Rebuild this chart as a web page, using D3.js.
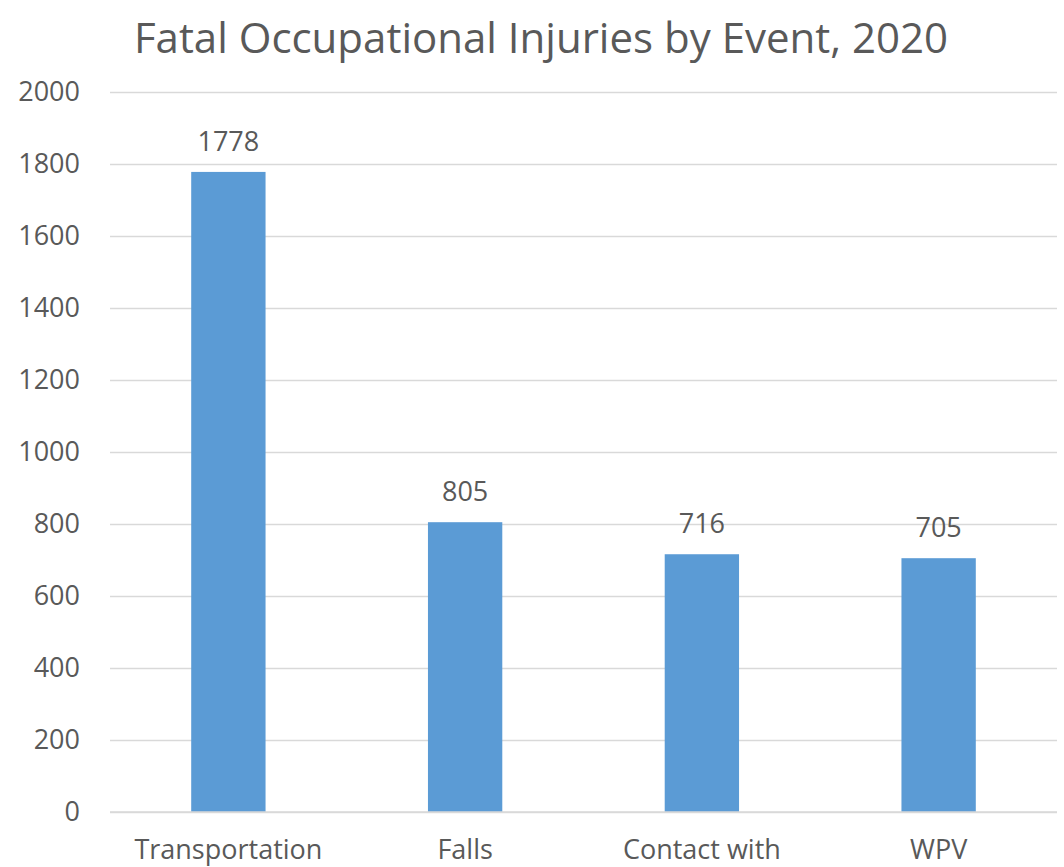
<!DOCTYPE html>
<html>
<head>
<meta charset="utf-8">
<script src="https://cdn.jsdelivr.net/npm/d3@7"></script>
<style>
  html, body { margin: 0; padding: 0; background: #fff; }
  svg { display: block; }
  text { font-family: "Open Sans", "Noto Sans", sans-serif; fill: #595959; }
</style>
</head>
<body>
<svg id="chart" width="1064" height="867"></svg>
<script>
const title = "Fatal Occupational Injuries by Event, 2020";
const categories = ["Transportation", "Falls", "Contact with", "WPV"];
const values = [1778, 805, 716, 705];
const yTicks = [0, 200, 400, 600, 800, 1000, 1200, 1400, 1600, 1800, 2000];

const W = 1064, H = 867;
const margin = { left: 110, right: 7, top: 92, bottom: 55 };
const svg = d3.select("#chart");

const x = d3.scaleBand()
  .domain(categories)
  .range([margin.left, W - margin.right])
  .paddingInner(0.686)
  .paddingOuter(0.343);

const y = d3.scaleLinear()
  .domain([0, 2000])
  .range([H - margin.bottom, margin.top]);

// title
svg.append("text")
  .attr("x", 541)
  .attr("y", 53)
  .attr("text-anchor", "middle")
  .style("font-size", "42px")
  .text(title);

// gridlines
const grid = svg.append("g")
  .attr("transform", `translate(${margin.left},0)`)
  .call(d3.axisLeft(y).tickValues(yTicks).tickSize(-(W - margin.left - margin.right)).tickFormat(""));
grid.select(".domain").remove();
grid.selectAll(".tick line").attr("stroke", "#d9d9d9").attr("stroke-width", 1.5);

// y labels
const yAxis = svg.append("g")
  .attr("transform", `translate(${margin.left},0)`)
  .call(d3.axisLeft(y).tickValues(yTicks).tickSize(0).tickPadding(30).tickFormat(d3.format("d")));
yAxis.select(".domain").remove();
yAxis.selectAll("text")
  .style("font-size", "27px")
  .style("font-family", '"Open Sans", sans-serif')
  .attr("fill", "#595959");

// bars
svg.append("g").selectAll("rect")
  .data(values)
  .join("rect")
  .attr("x", (d, i) => x(categories[i]))
  .attr("width", x.bandwidth())
  .attr("y", d => y(d))
  .attr("height", d => y(0) - y(d))
  .attr("fill", "#5b9bd5");

// x axis line
svg.append("line")
  .attr("x1", margin.left).attr("x2", W - margin.right)
  .attr("y1", y(0)).attr("y2", y(0))
  .attr("stroke", "#d9d9d9").attr("stroke-width", 1.5);

// value labels
svg.append("g").selectAll("text")
  .data(values)
  .join("text")
  .attr("x", (d, i) => x(categories[i]) + x.bandwidth() / 2)
  .attr("y", d => y(d) - 21)
  .attr("text-anchor", "middle")
  .style("font-size", "27px")
  .text(d => d);

// x labels
const xAxis = svg.append("g")
  .attr("transform", `translate(0,${y(0)})`)
  .call(d3.axisBottom(x).tickSize(0).tickPadding(0));
xAxis.select(".domain").remove();
xAxis.selectAll("text")
  .attr("dy", 0)
  .attr("y", 47)
  .style("font-size", "27px")
  .style("font-family", '"Open Sans", sans-serif')
  .attr("fill", "#595959");
</script>
</body>
</html>
